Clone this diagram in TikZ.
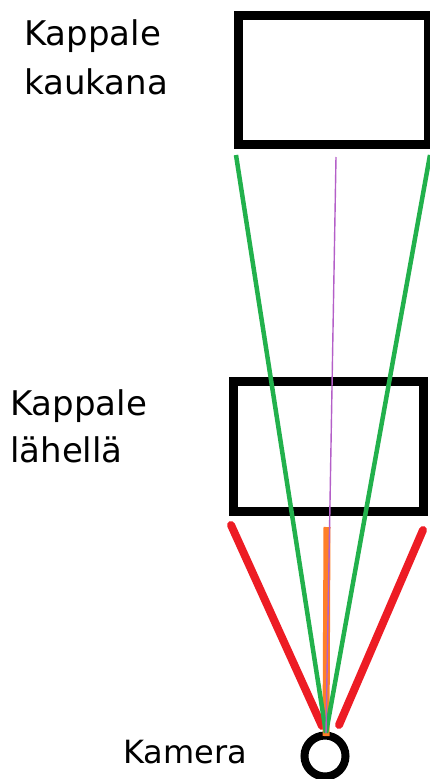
\documentclass[tikz,border=0pt]{standalone}
\usepackage{fontspec}
\setmainfont{DejaVu Sans}
\begin{document}
\definecolor{paintgreen}{RGB}{34,177,76}
\definecolor{paintred}{RGB}{237,28,36}
\definecolor{paintorange}{RGB}{255,127,39}
\definecolor{paintpurple}{RGB}{180,95,200}
\begin{tikzpicture}[x=1pt,y=-1pt,
  objbox/.style={draw=black,line width=9pt,fill=white},
  label/.style={anchor=base west,inner sep=0pt,font=\fontsize{34}{40}\selectfont},
  greenray/.style={draw=paintgreen,line width=4.5pt},
  redray/.style={draw=paintred,line width=8pt,line cap=round},
  orangeray/.style={draw=paintorange,line width=7pt},
  purpleray/.style={draw=paintpurple,line width=1.4pt}]
\useasboundingbox (0,0) rectangle (430,779);
% objects
\draw[objbox] (238.5,15.5) rectangle (428,144);
\draw[objbox] (233,381.5) rectangle (423.5,511);
\node[circle,draw=black,line width=8pt,minimum size=41pt,inner sep=0pt] (cam) at (325,756) {};
% labels
\node[label] (farA) at (24,45) {Kappale};
\node[label] (farB) at (24,94) {kaukana};
\node[label] (nearA) at (10,415) {Kappale};
\node[label] (nearB) at (10,462) {lähellä};
\node[label,font=\fontsize{32}{38}\selectfont] (camlbl) at (123,763) {Kamera};
% ray end points
\coordinate (apex) at (326,733);
\coordinate (gl) at (236,155);
\coordinate (gr) at (430,155);
\coordinate (pt) at (336,157);
\coordinate (ot) at (327,527);
\coordinate (ob) at (326,736);
\coordinate (rlt) at (231,525);
\coordinate (rlb) at (322,726);
\coordinate (rrt) at (423,530);
\coordinate (rrb) at (339,725);
% rays
\draw[redray] (rlt) -- (rlb);
\draw[redray] (rrt) -- (rrb);
\draw[orangeray] (ot) -- (ob);
\draw[greenray] (gl) -- (apex);
\draw[greenray] (gr) -- (apex);
\draw[purpleray] (pt) -- (apex);
\end{tikzpicture}
\end{document}
